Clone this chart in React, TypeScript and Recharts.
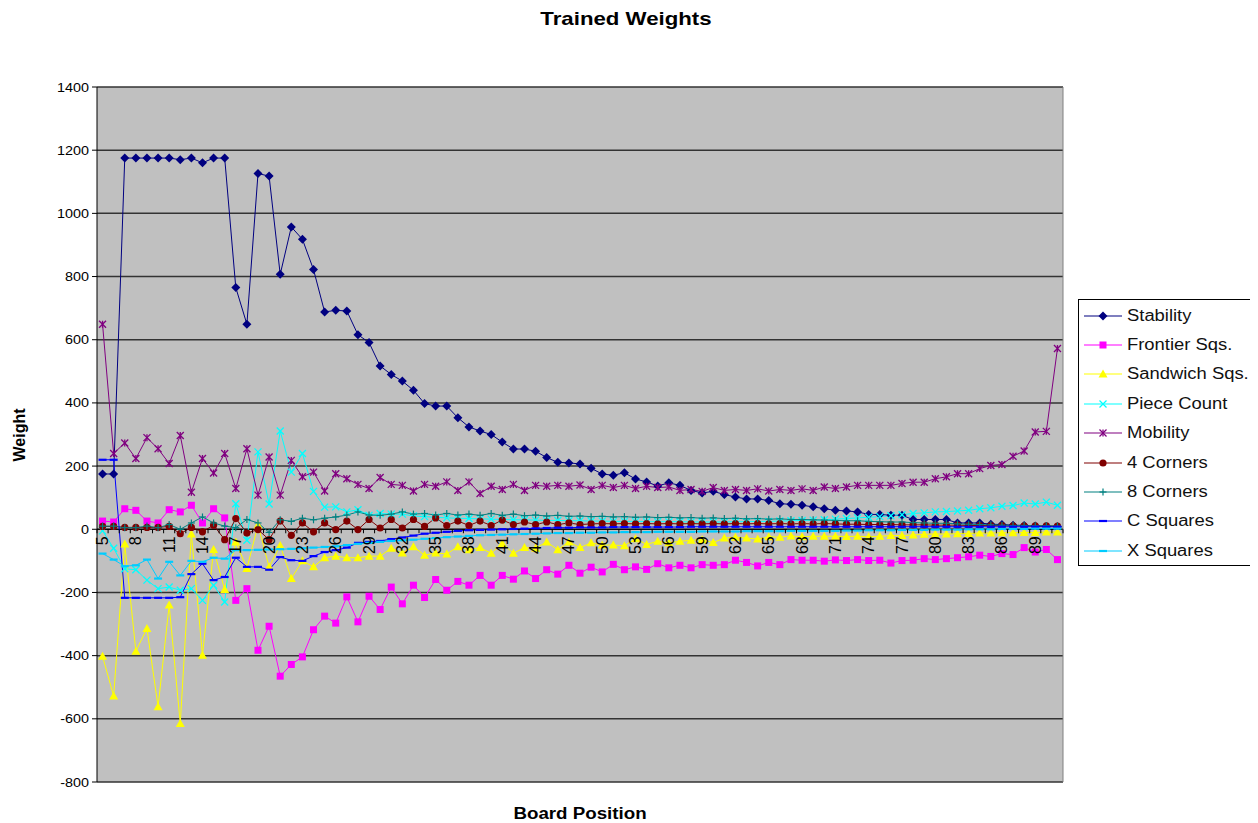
import React from "react";
import { LineChart, Line, XAxis, YAxis, CartesianGrid, ReferenceLine } from "recharts";

// board positions 5..91
const positions = [
  5, 6, 7, 8, 9, 10, 11, 12, 13, 14,
  15, 16, 17, 18, 19, 20, 21, 22, 23, 24,
  25, 26, 27, 28, 29, 30, 31, 32, 33, 34,
  35, 36, 37, 38, 39, 40, 41, 42, 43, 44,
  45, 46, 47, 48, 49, 50, 51, 52, 53, 54,
  55, 56, 57, 58, 59, 60, 61, 62, 63, 64,
  65, 66, 67, 68, 69, 70, 71, 72, 73, 74,
  75, 76, 77, 78, 79, 80, 81, 82, 83, 84,
  85, 86, 87, 88, 89, 90, 91,
];

const stability = [
  175, 175, 1175, 1175, 1175, 1175, 1175, 1170, 1175, 1160,
  1175, 1175, 765, 649, 1126, 1118, 807, 957, 918, 822,
  688, 693, 691, 616, 591, 517, 490, 469, 440, 398,
  390, 390, 353, 324, 311, 300, 276, 254, 254, 247,
  227, 212, 210, 207, 193, 175, 171, 179, 159, 150,
  137, 147, 139, 123, 115, 120, 110, 102, 96, 96,
  91, 81, 79, 76, 71, 65, 60, 58, 55, 47,
  47, 44, 44, 31, 31, 31, 31, 20, 20, 20,
  16, 15, 13, 12, 10, 9, 8,
];

const frontier = [
  26, 23, 65, 60, 26, 20, 62, 55, 76, 20,
  65, 36, -225, -188, -383, -307, -465, -428, -404, -318,
  -275, -297, -214, -293, -212, -254, -183, -236, -177, -216,
  -159, -193, -165, -177, -146, -177, -146, -158, -132, -156,
  -128, -142, -114, -139, -120, -135, -111, -128, -119, -127,
  -109, -122, -114, -122, -112, -114, -112, -98, -105, -116,
  -105, -112, -96, -98, -98, -101, -97, -99, -96, -99,
  -98, -107, -99, -98, -93, -96, -93, -90, -87, -82,
  -86, -77, -80, -58, -72, -64, -96,
];

const sandwich = [
  -402, -528, -47, -386, -314, -562, -240, -615, -15, -399,
  -64, -191, -40, -124, 13, -119, -51, -156, -100, -119,
  -90, -85, -90, -90, -85, -85, -60, -75, -55, -82,
  -75, -78, -55, -65, -58, -76, -45, -76, -58, -60,
  -40, -65, -40, -58, -43, -50, -50, -52, -30, -48,
  -38, -43, -38, -35, -33, -42, -28, -25, -28, -31,
  -24, -25, -21, -24, -22, -22, -22, -23, -22, -24,
  -22, -20, -20, -18, -16, -15, -15, -14, -13, -12,
  -12, -11, -11, -10, -10, -9, -9,
];

const pieceCount = [
  -5, -60, -125, -128, -161, -188, -183, -193, -188, -225,
  -177, -230, 81, -35, 245, 80, 311, 181, 240, 120,
  70, 71, 55, 62, 44, 50, 48, 48, 42, 40,
  38, 36, 35, 34, 33, 32, 31, 30, 30, 29,
  28, 28, 27, 27, 26, 26, 25, 25, 25, 24,
  24, 24, 24, 23, 23, 23, 23, 24, 24, 25,
  25, 26, 27, 28, 29, 30, 32, 34, 36, 38,
  40, 43, 46, 50, 52, 55, 56, 58, 60, 65,
  68, 73, 75, 83, 80, 86, 76,
];

const mobility = [
  649, 240, 273, 224, 290, 255, 208, 297, 117, 224,
  178, 240, 129, 255, 108, 229, 108, 218, 166, 181,
  121, 176, 160, 142, 129, 164, 142, 139, 121, 142,
  136, 150, 123, 150, 113, 136, 126, 142, 123, 139,
  136, 139, 136, 140, 126, 139, 132, 139, 129, 136,
  132, 134, 123, 126, 120, 132, 123, 126, 123, 128,
  121, 126, 123, 128, 123, 134, 129, 134, 139, 139,
  139, 139, 145, 149, 149, 160, 166, 176, 176, 192,
  202, 205, 231, 248, 308, 310, 572,
];

const corners4 = [
  9, 9, 6, 6, 6, 6, 9, -14, 6, -8,
  13, -33, 34, -12, -1, -33, 26, -19, 20, -8,
  20, -1, 26, -1, 31, 4, 31, 4, 31, 9,
  36, 12, 26, 12, 26, 12, 29, 15, 23, 15,
  23, 15, 20, 15, 17, 18, 17, 18, 17, 18,
  17, 18, 17, 18, 17, 18, 17, 18, 17, 18,
  17, 18, 17, 18, 17, 18, 17, 16, 16, 15,
  15, 15, 14, 14, 14, 13, 13, 13, 12, 12,
  12, 12, 11, 11, 11, 11, 10,
];

const corners8 = [
  10, 10, 5, 5, 10, 5, 15, 0, 20, 39,
  20, 10, 5, 31, 20, -10, 30, 25, 35, 30,
  35, 39, 45, 55, 45, 44, 48, 55, 48, 50,
  45, 50, 45, 48, 44, 50, 44, 48, 43, 45,
  42, 44, 41, 42, 40, 41, 39, 40, 38, 39,
  37, 38, 36, 37, 35, 36, 34, 35, 33, 34,
  32, 33, 31, 31, 30, 29, 28, 27, 27, 25,
  24, 23, 23, 21, 20, 19, 19, 17, 16, 15,
  14, 13, 12, 12, 11, 11, 10,
];

const cSquares = [
  220, 220, -217, -217, -217, -217, -217, -215, -142, -109,
  -161, -151, -90, -119, -119, -128, -88, -98, -100, -85,
  -72, -66, -58, -43, -40, -37, -31, -26, -20, -14,
  -11, -8, -5, -3, -2, -1, 0, 1, 2, 3,
  4, 5, 5, 6, 6, 6, 7, 7, 7, 7,
  7, 7, 7, 8, 8, 8, 8, 8, 8, 8,
  8, 8, 8, 8, 8, 8, 8, 8, 8, 8,
  8, 8, 8, 8, 8, 8, 8, 8, 8, 8,
  8, 8, 8, 8, 8, 8, 8,
];

const xSquares = [
  -77, -96, -117, -114, -96, -156, -103, -146, -100, -103,
  -90, -93, -66, -66, -65, -64, -63, -62, -60, -58,
  -56, -54, -50, -46, -43, -40, -37, -35, -33, -30,
  -28, -25, -23, -21, -19, -18, -17, -16, -15, -14,
  -13, -12, -12, -11, -11, -10, -10, -9, -9, -9,
  -8, -8, -8, -8, -7, -7, -7, -7, -6, -6,
  -6, -6, -5, -5, -5, -5, -5, -4, -4, -3,
  -3, -3, -2, -2, -2, -1, -1, -1, 0, 0,
  0, 1, 1, 1, 2, 2, 2,
];

const yTicks = [-800, -600, -400, -200, 0, 200, 400, 600, 800, 1000, 1200, 1400];

type Shape = "diamond" | "square" | "triangle" | "x" | "star" | "circle" | "plus" | "dash";

const SERIES: { key: string; name: string; values: number[]; color: string; shape: Shape }[] = [
  { key: "stability", name: "Stability", values: stability, color: "#000080", shape: "diamond" },
  { key: "frontier", name: "Frontier Sqs.", values: frontier, color: "#FF00FF", shape: "square" },
  { key: "sandwich", name: "Sandwich Sqs.", values: sandwich, color: "#FFFF00", shape: "triangle" },
  { key: "pieceCount", name: "Piece Count", values: pieceCount, color: "#00FFFF", shape: "x" },
  { key: "mobility", name: "Mobility", values: mobility, color: "#800080", shape: "star" },
  { key: "corners4", name: "4 Corners", values: corners4, color: "#800000", shape: "circle" },
  { key: "corners8", name: "8 Corners", values: corners8, color: "#008080", shape: "plus" },
  { key: "cSquares", name: "C Squares", values: cSquares, color: "#0000FF", shape: "dash" },
  { key: "xSquares", name: "X Squares", values: xSquares, color: "#00CCFF", shape: "dash" },
];

const rows = positions.map((p, i) => {
  const r: Record<string, number> = { pos: p };
  SERIES.forEach((s) => (r[s.key] = s.values[i]));
  return r;
});

const W = 1250;
const H = 815;
const PLOT_LEFT = 89;
const PLOT_TOP = 79;
const PLOT_W = 966;
const PLOT_H = 695;
const BAND = PLOT_W / positions.length;
const ZERO_Y = PLOT_TOP + (PLOT_H * 1400) / 2200;
const FONT = "Arial, 'Liberation Sans', Helvetica, sans-serif";

function Marker({ shape, color, cx, cy }: { shape: Shape; color: string; cx: number; cy: number }) {
  switch (shape) {
    case "diamond":
      return <polygon points={`${cx},${cy - 4.5} ${cx + 4.5},${cy} ${cx},${cy + 4.5} ${cx - 4.5},${cy}`} fill={color} />;
    case "square":
      return <rect x={cx - 3.5} y={cy - 3.5} width={7} height={7} fill={color} />;
    case "triangle":
      return <polygon points={`${cx},${cy - 4.5} ${cx + 4.5},${cy + 3.5} ${cx - 4.5},${cy + 3.5}`} fill={color} />;
    case "x":
      return (
        <g stroke={color} strokeWidth={1.3}>
          <line x1={cx - 3.5} y1={cy - 3.5} x2={cx + 3.5} y2={cy + 3.5} />
          <line x1={cx - 3.5} y1={cy + 3.5} x2={cx + 3.5} y2={cy - 3.5} />
        </g>
      );
    case "star":
      return (
        <g stroke={color} strokeWidth={1.3}>
          <line x1={cx - 3.5} y1={cy - 3.5} x2={cx + 3.5} y2={cy + 3.5} />
          <line x1={cx - 3.5} y1={cy + 3.5} x2={cx + 3.5} y2={cy - 3.5} />
          <line x1={cx} y1={cy - 3.5} x2={cx} y2={cy + 3.5} />
        </g>
      );
    case "circle":
      return <circle cx={cx} cy={cy} r={3.6} fill={color} />;
    case "plus":
      return (
        <g stroke={color} strokeWidth={1.2}>
          <line x1={cx - 3.5} y1={cy} x2={cx + 3.5} y2={cy} />
          <line x1={cx} y1={cy - 3.5} x2={cx} y2={cy + 3.5} />
        </g>
      );
    case "dash":
      return <line x1={cx - 4} y1={cy} x2={cx + 4} y2={cy} stroke={color} strokeWidth={2.2} />;
  }
  return null;
}

const dotFor = (shape: Shape, color: string) => (p: any) => {
  if (p.cx == null || p.cy == null) return <g key={p.index} />;
  return <Marker key={p.index} shape={shape} color={color} cx={p.cx} cy={p.cy} />;
};

function XTick(props: any) {
  const { x, payload, index } = props;
  const v = payload.value as number;
  return (
    <g>
      <line x1={x - BAND / 2} x2={x - BAND / 2} y1={ZERO_Y} y2={ZERO_Y + 4} stroke="#000" />
      {index === positions.length - 1 && (
        <line x1={x + BAND / 2} x2={x + BAND / 2} y1={ZERO_Y} y2={ZERO_Y + 4} stroke="#000" />
      )}
      {(v - 5) % 3 === 0 && (
        <text
          transform={`translate(${x + 5.5},${ZERO_Y + 7}) rotate(-90)`}
          textAnchor="end"
          fontSize={16}
          fontFamily={FONT}
          fill="#000"
        >
          {v}
        </text>
      )}
    </g>
  );
}

function YTick(props: any) {
  const { x, y, payload } = props;
  return (
    <text
      transform={`translate(${x - 1},${y}) scale(1.15,1)`}
      textAnchor="end"
      dy="0.36em"
      fontSize={12.5}
      fontFamily={FONT}
      fill="#000"
    >
      {payload.value}
    </text>
  );
}

function LegendBox() {
  return (
    <div
      style={{
        position: "absolute",
        left: 1070,
        top: 291,
        width: 175,
        height: 267,
        boxSizing: "border-box",
        border: "1px solid #000",
        background: "#fff",
        paddingTop: 1,
      }}
    >
      {SERIES.map((s) => (
        <div key={s.key} style={{ height: 29.4, display: "flex", alignItems: "center" }}>
          <svg width={46} height={12} style={{ marginLeft: 5, flex: "none" }}>
            <line x1={0} x2={38} y1={6} y2={6} stroke={s.color} strokeWidth={1.2} />
            <Marker shape={s.shape} color={s.color} cx={19} cy={6} />
          </svg>
          <span
            style={{
              display: "inline-block",
              fontSize: 16,
              fontFamily: FONT,
              color: "#111",
              whiteSpace: "nowrap",
              transform: "scaleX(1.15)",
              transformOrigin: "left center",
              marginLeft: -3,
            }}
          >
            {s.name}
          </span>
        </div>
      ))}
    </div>
  );
}

export default function App() {
  return (
    <div style={{ position: "relative", width: W, height: H, fontFamily: FONT, background: "#fff" }}>
      <div
        style={{
          position: "absolute",
          left: 618,
          top: 1,
          fontSize: 19,
          lineHeight: "19px",
          fontWeight: "bold",
          whiteSpace: "nowrap",
          transform: "translateX(-50%) scaleX(1.17)",
        }}
      >
        Trained Weights
      </div>
      <LineChart
        width={W}
        height={H}
        data={rows}
        margin={{ top: PLOT_TOP, left: PLOT_LEFT - 60, right: W - PLOT_LEFT - PLOT_W - 1, bottom: H - PLOT_TOP - PLOT_H - 1 }}
      >
        <CartesianGrid vertical={false} fill="#C0C0C0" stroke="#333" strokeWidth={1.5} />
        <XAxis
          dataKey="pos"
          height={1}
          interval={0}
          axisLine={false}
          tickLine={false}
          padding={{ left: BAND / 2, right: BAND / 2 }}
          tick={<XTick />}
        />
        <YAxis
          width={60}
          domain={[-800, 1400]}
          ticks={yTicks}
          interval={0}
          axisLine={{ stroke: "#000" }}
          tickLine={{ stroke: "#000" }}
          tickSize={5}
          tick={<YTick />}
        />
        <YAxis yAxisId="r" orientation="right" width={1} tick={false} tickLine={false} axisLine={{ stroke: "#808080" }} />
        <ReferenceLine y={0} stroke="#000" strokeWidth={1} />
        {SERIES.map((s) => (
          <Line
            key={s.key}
            type="linear"
            dataKey={s.key}
            name={s.name}
            stroke={s.color}
            strokeWidth={1}
            dot={dotFor(s.shape, s.color)}
            activeDot={false}
            isAnimationActive={false}
          />
        ))}
      </LineChart>
      <div
        style={{
          position: "absolute",
          left: 12,
          top: 427,
          fontSize: 16,
          fontWeight: "bold",
          whiteSpace: "nowrap",
          transform: "translate(-50%,-50%) rotate(-90deg)",
        }}
      >
        Weight
      </div>
      <div
        style={{
          position: "absolute",
          left: 572,
          top: 798,
          fontSize: 16,
          lineHeight: "16px",
          fontWeight: "bold",
          whiteSpace: "nowrap",
          transform: "translateX(-50%) scaleX(1.17)",
        }}
      >
        Board Position
      </div>
      <LegendBox />
    </div>
  );
}
